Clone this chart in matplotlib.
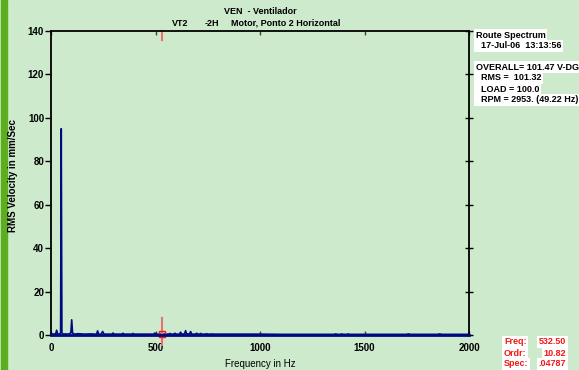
import numpy as np
import matplotlib.pyplot as plt

# spectrum points (Hz, mm/Sec)
freq = [0, 8, 15, 22, 27, 32, 40, 46, 49, 52, 58, 70, 85, 95, 99, 103, 110,
        130, 160, 190, 210, 218, 223, 228, 240, 247, 254, 270, 292, 297, 302, 320, 339, 344, 349, 370, 387, 392, 397, 430,
        460, 492, 497, 502, 530, 564, 569, 574, 588, 593, 598, 615, 620, 625, 639, 644, 649, 663, 668, 673, 692, 697, 702, 711, 716, 721, 740, 745, 750, 764, 769, 774,
        800, 900, 995, 1000, 1005, 1100, 1200, 1300, 1355, 1362, 1369, 1385, 1392, 1399, 1415, 1422, 1429, 1500, 1600, 1700, 1710, 1720, 1730, 1800, 1850, 1860, 1870, 2000]
amp = [0.6, 0.4, 0.5, 0.4, 2.2, 0.4, 0.4, 1.0, 95.0, 1.0, 0.4, 0.5, 0.4, 1.0, 7.0, 1.0, 0.4,
       0.6, 0.4, 0.5, 0.4, 0.4, 1.9, 0.4, 0.4, 1.6, 0.4, 0.4, 0.4, 0.9, 0.4, 0.4, 0.4, 0.8, 0.4, 0.4, 0.4, 0.7, 0.4, 0.4,
       0.4, 0.4, 0.9, 0.4, 0.4, 0.4, 0.7, 0.4, 0.4, 0.8, 0.4, 0.4, 1.3, 0.4, 0.5, 2.0, 0.5, 0.5, 1.6, 0.4, 0.4, 0.8, 0.4, 0.4, 0.7, 0.4, 0.4, 0.6, 0.4, 0.4, 0.5, 0.4,
       0.4, 0.4, 0.4, 0.4, 0.4, 0.3, 0.3, 0.3, 0.3, 0.5, 0.3, 0.3, 0.5, 0.3, 0.3, 0.5, 0.3, 0.3, 0.3, 0.3, 0.5, 0.3, 0.3, 0.3, 0.3, 0.5, 0.3, 0.3]

cursor_freq = 532.5
yticks = [0, 20, 40, 60, 80, 100, 120, 140]
xticks = [0, 500, 1000, 1500, 2000]

info_lines = ["Route Spectrum", "  17-Jul-06  13:13:56"]
stat_lines = ["OVERALL= 101.47 V-DG", "  RMS =  101.32", "  LOAD = 100.0", "  RPM = 2953. (49.22 Hz)"]
cursor_labels = ["Freq:", "Ordr:", "Spec:"]
cursor_values = ["532.50", "10.82", ".04787"]

bg = '#cdeacd'
navy = '#000a80'
red = '#f01818'
plt.rcParams['font.family'] = ['Liberation Sans', 'DejaVu Sans']
plt.rcParams['font.weight'] = 'bold'

fig = plt.figure(figsize=(5.79, 3.70), dpi=100, facecolor=bg)
# green bar on the left edge
fig.patches.append(plt.Rectangle((1/579, 0), 6/579, 1, transform=fig.transFigure,
                                 color='#5cae1e', zorder=0))

ax = fig.add_axes([51/579, (370-335)/370, 418/579, 304/370], facecolor=bg)
ax.fill_between(freq, 0, amp, color='#7080c8', alpha=0.6, lw=0)
ax.plot(freq, amp, color=navy, lw=1.2)
ax.set_xlim(0, 2000)
ax.set_ylim(0, 140)

for s in ax.spines.values():
    s.set_linewidth(1.3)
ax.spines['bottom'].set_color(navy)
ax.spines['bottom'].set_linewidth(2)

ax.set_yticks(yticks)
ax.set_xticks(xticks)
ax.tick_params(axis='y', direction='out', length=4, width=1, labelsize=7, pad=1,
               right=True)
ax.tick_params(axis='x', direction='in', length=3, width=1, labelsize=7, pad=6,
               top=True, color='#404040')
for t in ax.yaxis.get_major_ticks():
    t.tick2line.set_marker('_')
    t.tick2line.set_markersize(6)

fig.text(13/579, 1 - 176/370, 'RMS Velocity in mm/Sec', fontsize=7, rotation=90,
         ha='center', va='center')
ax.set_xlabel('Frequency in Hz', fontsize=7, labelpad=4)

# cursor
ax.plot([cursor_freq, cursor_freq], [136, 140], color='#e87070', lw=1.5, clip_on=False)
ax.plot([cursor_freq, cursor_freq], [-4.5, 8], color='#e87070', lw=1.5, clip_on=False)
ax.plot([cursor_freq], [0.5], marker='s', ms=5, mfc='none', mec=red, mew=1, clip_on=False)

# titles
fig.text(224/579, 1 - 12/370, 'VEN  - Ventilador', fontsize=6.5, ha='left', va='center')
fig.text(172/579, 1 - 23/370, 'VT2', fontsize=6.5, ha='left', va='center')
fig.text(205/579, 1 - 23/370, '-2H', fontsize=6.5, ha='left', va='center')
fig.text(231/579, 1 - 23/370, 'Motor, Ponto 2 Horizontal', fontsize=6.5, ha='left',
         va='center')

box = dict(facecolor='white', edgecolor='none', pad=1.2)
for i, s in enumerate(info_lines):
    fig.text(476/579, 1 - (35 + 11*i)/370, s, fontsize=6.5, va='center', ha='left', bbox=box)
for i, s in enumerate(stat_lines):
    fig.text(476/579, 1 - (67 + 11*i)/370, s, fontsize=6.5, va='center', ha='left', bbox=box)
for i, (lab, val) in enumerate(zip(cursor_labels, cursor_values)):
    fig.text(504/579, 1 - (342 + 11*i)/370, lab, fontsize=6.5, color=red, va='center',
             ha='left', bbox=box)
    fig.text(566/579, 1 - (342 + 11*i)/370, val, fontsize=6.5, color=red, va='center',
             ha='right', bbox=box)

fig.savefig('out.png', dpi=100, facecolor=bg)
